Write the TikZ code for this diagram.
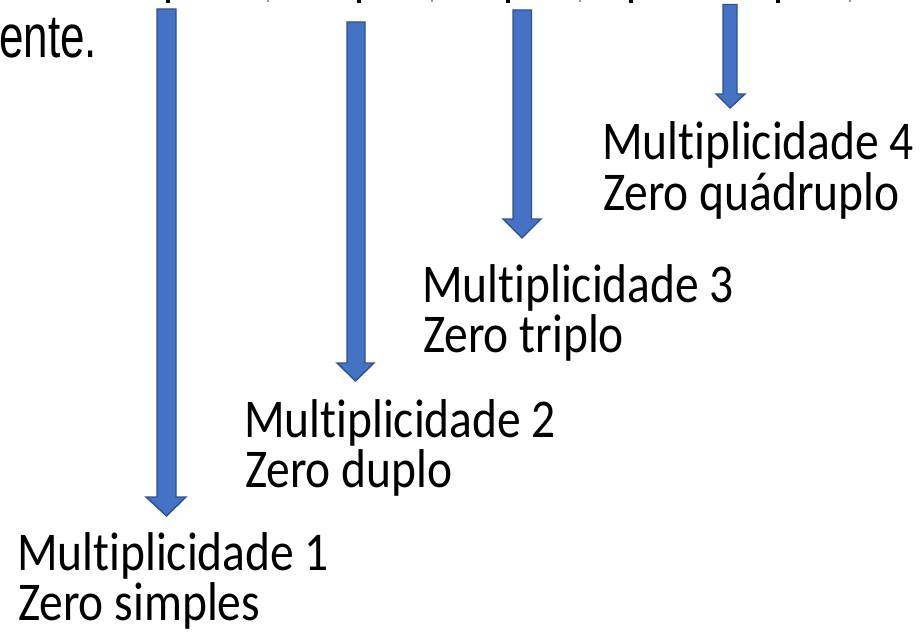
\documentclass[tikz,border=0pt]{standalone}
\usepackage{fontspec}
\setmainfont{Carlito}[RawFeature={-liga;-dlig;-clig}]
\newfontfamily\arialfont{Liberation Sans}
\definecolor{arrowfill}{HTML}{4472C4}
\definecolor{arrowline}{HTML}{2F528F}
\begin{document}
\begin{tikzpicture}[x=1pt,y=-1pt,
  blockarrow/.style={fill=arrowfill,draw=arrowline,line width=1.4pt,line join=miter},
  lbl/.style={anchor=base west,inner sep=0pt,outer sep=0pt,font=\fontsize{47.5}{57}\selectfont}]
\useasboundingbox (0,0) rectangle (922,634);
\clip (0,0) rectangle (922,634);
% fragments of the cut-off line above
\foreach \xx in {168,359,508,631,778} \fill[black] (\xx-2,0) rectangle (\xx+2,3);
\foreach \xx in {268,432,580,850} \fill[black!40] (\xx-0.6,0) rectangle (\xx+0.6,2);
% cut-off sentence end
\node[anchor=base west,inner sep=0pt] (ente) at (-1,58) {\arialfont\fontsize{44}{52}\selectfont\scalebox{1}[1.38]{ente.}};
% arrows
\draw[blockarrow] (157,9) -- (176,9) -- (176,497) -- (186,497) -- (166.5,516) -- (146,497) -- (157,497) -- cycle;
\draw[blockarrow] (347,22) -- (365,22) -- (365,363) -- (374,363) -- (355.5,381) -- (337,363) -- (347,363) -- cycle;
\draw[blockarrow] (513,10) -- (531.5,10) -- (531.5,219) -- (541,219) -- (522,238) -- (503,219) -- (513,219) -- cycle;
\draw[blockarrow] (723,4.5) -- (737,4.5) -- (737,94) -- (745,94) -- (730,108) -- (716,94) -- (723,94) -- cycle;
% labels
\node[lbl] (m4a) at (602,160) {\scalebox{1}[1.15]{Multiplicidade 4}};
\node[lbl] (m4b) at (603,210) {\scalebox{1}[1.15]{Zero quádruplo}};
\node[lbl] (m3a) at (422,302) {\scalebox{1}[1.15]{Multiplicidade 3}};
\node[lbl] (m3b) at (423,352) {\scalebox{1}[1.15]{Zero triplo}};
\node[lbl] (m2a) at (244,437) {\scalebox{1}[1.15]{Multiplicidade 2}};
\node[lbl] (m2b) at (245,487) {\scalebox{1}[1.15]{Zero duplo}};
\node[lbl] (m1a) at (17,570) {\scalebox{1}[1.15]{Multiplicidade 1}};
\node[lbl] (m1b) at (18,620) {\scalebox{1}[1.15]{Zero simples}};
\end{tikzpicture}
\end{document}
